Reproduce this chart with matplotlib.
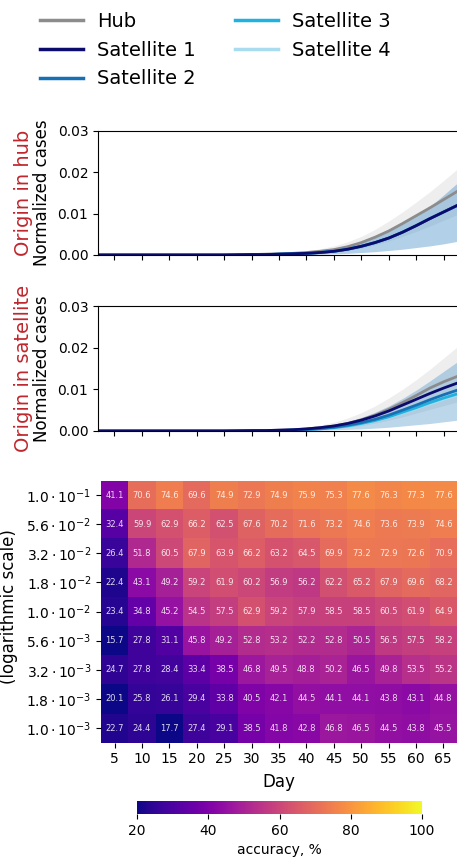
import numpy as np
import matplotlib.pyplot as plt

# days sampled for the curves
days = [0, 5, 10, 15, 20, 25, 30, 32.5, 35, 37.5, 40, 42.5, 45, 47.5, 50,
        52.5, 55, 57.5, 60, 62.5, 65, 67.5, 70]

z6 = [0, 0, 0, 0, 0, 0]

# origin in hub
hub_a = z6 + [0.0001, 0.0002, 0.0003, 0.0004, 0.0006, 0.0009, 0.0013, 0.0020, 0.0030,
              0.0043, 0.0058, 0.0076, 0.0095, 0.0114, 0.0134, 0.0154, 0.0174]
hub_a_lo = z6 + [0.0000, 0.0001, 0.0001, 0.0002, 0.0003, 0.0005, 0.0007, 0.0011, 0.0017,
                 0.0025, 0.0034, 0.0045, 0.0057, 0.0070, 0.0084, 0.0098, 0.0112]
hub_a_hi = z6 + [0.0002, 0.0003, 0.0005, 0.0007, 0.0010, 0.0015, 0.0022, 0.0032, 0.0045,
                 0.0062, 0.0082, 0.0104, 0.0128, 0.0153, 0.0180, 0.0208, 0.0236]
sat_a = z6 + [0.0001, 0.0001, 0.0002, 0.0003, 0.0004, 0.0006, 0.0009, 0.0014, 0.0021,
              0.0030, 0.0041, 0.0055, 0.0071, 0.0088, 0.0104, 0.0120, 0.0136]
sat_a_lo = z6 + [0.0000, 0.0000, 0.0001, 0.0001, 0.0001, 0.0002, 0.0003, 0.0004, 0.0006,
                 0.0008, 0.0011, 0.0014, 0.0018, 0.0022, 0.0027, 0.0033, 0.0039]
sat_a_hi = z6 + [0.0001, 0.0002, 0.0003, 0.0004, 0.0006, 0.0009, 0.0014, 0.0021, 0.0031,
                 0.0044, 0.0060, 0.0078, 0.0097, 0.0117, 0.0145, 0.0174, 0.0200]

# origin in satellite
hub_b = z6 + [0.0001, 0.0001, 0.0002, 0.0003, 0.0005, 0.0008, 0.0012, 0.0018, 0.0027,
              0.0038, 0.0052, 0.0068, 0.0085, 0.0103, 0.0118, 0.0131, 0.0144]
hub_b_lo = z6 + [0.0000, 0.0001, 0.0001, 0.0002, 0.0003, 0.0004, 0.0006, 0.0009, 0.0013,
                 0.0019, 0.0026, 0.0034, 0.0043, 0.0052, 0.0061, 0.0070, 0.0079]
hub_b_hi = z6 + [0.0002, 0.0003, 0.0004, 0.0006, 0.0009, 0.0014, 0.0021, 0.0031, 0.0044,
                 0.0060, 0.0079, 0.0100, 0.0123, 0.0148, 0.0175, 0.0202, 0.0230]
sat1_b = z6 + [0.0001, 0.0001, 0.0002, 0.0003, 0.0005, 0.0008, 0.0012, 0.0018, 0.0026,
               0.0036, 0.0048, 0.0062, 0.0076, 0.0090, 0.0103, 0.0115, 0.0127]
sat2_b = z6 + [0.0000, 0.0001, 0.0001, 0.0002, 0.0004, 0.0006, 0.0009, 0.0014, 0.0020,
               0.0028, 0.0038, 0.0050, 0.0062, 0.0075, 0.0087, 0.0098, 0.0109]
sat3_b = z6 + [0.0000, 0.0001, 0.0001, 0.0002, 0.0003, 0.0005, 0.0008, 0.0012, 0.0018,
               0.0025, 0.0034, 0.0045, 0.0056, 0.0068, 0.0079, 0.0089, 0.0099]
sat4_b = z6 + [0.0000, 0.0001, 0.0001, 0.0002, 0.0003, 0.0005, 0.0008, 0.0012, 0.0017,
               0.0024, 0.0033, 0.0043, 0.0054, 0.0065, 0.0076, 0.0086, 0.0096]
sat_b_lo = z6 + [0.0000, 0.0000, 0.0001, 0.0001, 0.0001, 0.0002, 0.0003, 0.0004, 0.0005,
                 0.0007, 0.0009, 0.0012, 0.0015, 0.0018, 0.0022, 0.0026, 0.0030]
sat_b_hi = z6 + [0.0001, 0.0002, 0.0003, 0.0004, 0.0006, 0.0010, 0.0015, 0.0022, 0.0032,
                 0.0045, 0.0060, 0.0078, 0.0098, 0.0120, 0.0143, 0.0166, 0.0190]

# heatmap: accuracy, %
heat_days = [5, 10, 15, 20, 25, 30, 35, 40, 45, 50, 55, 60, 65]
rate_labels = [r'$1.0\cdot10^{-1}$', r'$5.6\cdot10^{-2}$', r'$3.2\cdot10^{-2}$',
               r'$1.8\cdot10^{-2}$', r'$1.0\cdot10^{-2}$', r'$5.6\cdot10^{-3}$',
               r'$3.2\cdot10^{-3}$', r'$1.8\cdot10^{-3}$', r'$1.0\cdot10^{-3}$']
acc = [
    [41.1, 70.6, 74.6, 69.6, 74.9, 72.9, 74.9, 75.9, 75.3, 77.6, 76.3, 77.3, 77.6],
    [32.4, 59.9, 62.9, 66.2, 62.5, 67.6, 70.2, 71.6, 73.2, 74.6, 73.6, 73.9, 74.6],
    [26.4, 51.8, 60.5, 67.9, 63.9, 66.2, 63.2, 64.5, 69.9, 73.2, 72.9, 72.6, 70.9],
    [22.4, 43.1, 49.2, 59.2, 61.9, 60.2, 56.9, 56.2, 62.2, 65.2, 67.9, 69.6, 68.2],
    [23.4, 34.8, 45.2, 54.5, 57.5, 62.9, 59.2, 57.9, 58.5, 58.5, 60.5, 61.9, 64.9],
    [15.7, 27.8, 31.1, 45.8, 49.2, 52.8, 53.2, 52.2, 52.8, 50.5, 56.5, 57.5, 58.2],
    [24.7, 27.8, 28.4, 33.4, 38.5, 46.8, 49.5, 48.8, 50.2, 46.5, 49.8, 53.5, 55.2],
    [20.1, 25.8, 26.1, 29.4, 33.8, 40.5, 42.1, 44.5, 44.1, 44.1, 43.8, 43.1, 44.8],
    [22.7, 24.4, 17.7, 27.4, 29.1, 38.5, 41.8, 42.8, 46.8, 46.5, 44.5, 43.8, 45.5],
]

labels = ['Hub', 'Satellite 1', 'Satellite 2', 'Satellite 3', 'Satellite 4']
colors = ['#8c8c8c', '#0b0b6e', '#1770b3', '#1fb2e0', '#a8dcee']
red = '#c0262d'

W, H = 457, 859
fig = plt.figure(figsize=(W / 100, H / 100), dpi=100)

def px(l, t, r, b):
    return [l / W, 1 - b / H, (r - l) / W, (b - t) / H]

ax1 = fig.add_axes(px(98, 131, 471, 255))
ax2 = fig.add_axes(px(98, 306, 471, 431))
axh = fig.add_axes(px(101, 480.5, 457, 742.6))
cax = fig.add_axes(px(137, 801, 422, 814))

# line panels
ax1.fill_between(days, hub_a_lo, hub_a_hi, color='#cfcfcf', alpha=0.35, lw=0)
ax1.fill_between(days, sat_a_lo, sat_a_hi, color='#3f8bc4', alpha=0.4, lw=0)
ax1.plot(days, hub_a, color=colors[0], lw=2)
for c in colors[:0:-1]:
    ax1.plot(days, sat_a, color=c, lw=2)

ax2.fill_between(days, hub_b_lo, hub_b_hi, color='#cfcfcf', alpha=0.35, lw=0)
ax2.fill_between(days, sat_b_lo, sat_b_hi, color='#3f8bc4', alpha=0.35, lw=0)
ax2.plot(days, hub_b, color=colors[0], lw=2)
for ys, c in zip([sat4_b, sat3_b, sat2_b, sat1_b], colors[:0:-1]):
    ax2.plot(days, ys, color=c, lw=2)

for ax, title in [(ax1, 'Origin in hub'), (ax2, 'Origin in satellite')]:
    ax.set_xlim(2, 70)
    ax.set_ylim(0, 0.03)
    ax.set_yticks([0, 0.01, 0.02, 0.03])
    ax.set_xticks(heat_days)
    ax.tick_params(labelbottom=False, labelsize=10)
    ax.set_ylabel('Normalized cases', fontsize=12, labelpad=5)
    ax.text(-0.2, 0.5, title, color=red, fontsize=14, rotation=90,
            ha='center', va='center', transform=ax.transAxes)

# legend
handles = [plt.Line2D([], [], color=c, lw=2.5) for c in colors]
fig.legend(handles, labels, loc='upper left', bbox_to_anchor=(40 / W, 1 - 12 / H),
           ncol=2, frameon=False, fontsize=14, borderpad=0, borderaxespad=0,
           handlelength=2.2, handletextpad=0.75, columnspacing=2.0, labelspacing=0.5)

# heatmap
data = np.array(acc)
im = axh.imshow(data, cmap='plasma', vmin=20, vmax=100, aspect='auto')
for i in range(data.shape[0]):
    for j in range(data.shape[1]):
        axh.text(j, i, f'{data[i, j]:.1f}', ha='center', va='center',
                 fontsize=6, color='white', alpha=0.85)
axh.set_xticks(range(len(heat_days)))
axh.set_xticklabels(heat_days, fontsize=10)
axh.set_yticks(range(len(rate_labels)))
axh.set_yticklabels(rate_labels, fontsize=10)
axh.set_xlabel('Day', fontsize=12, labelpad=5)
for s in axh.spines.values():
    s.set_visible(False)
fig.text(9 / W, 1 - 607 / H, '(logarithmic scale)', fontsize=12, rotation=90,
         ha='center', va='center')

cb = fig.colorbar(im, cax=cax, orientation='horizontal', ticks=[20, 40, 60, 80, 100])
cb.outline.set_visible(False)
cb.ax.tick_params(labelsize=10)
cb.set_label('accuracy, %', fontsize=10)

fig.savefig('out.png', dpi=100)
